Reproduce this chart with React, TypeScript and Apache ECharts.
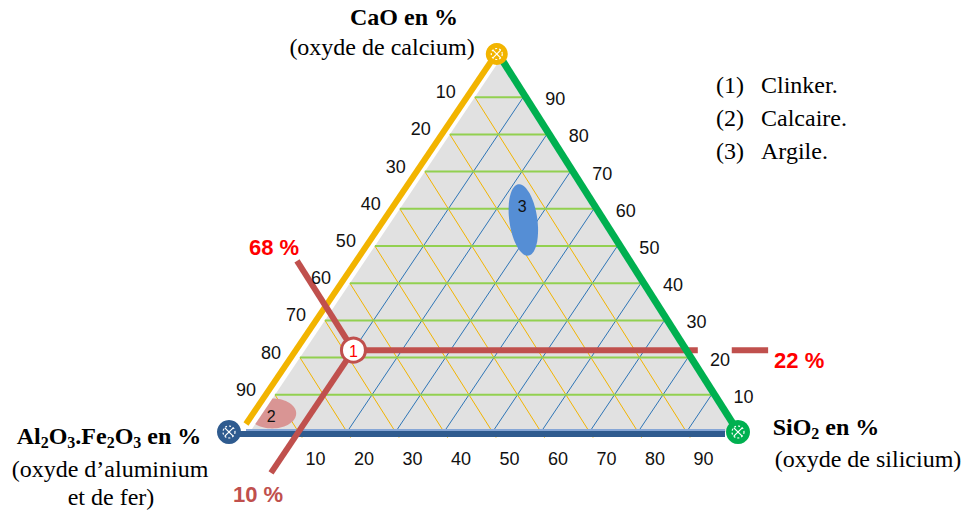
import React, { useEffect, useRef } from "react";
import * as echarts from "echarts";

// ---------------- data ----------------
const TICKS = [10, 20, 30, 40, 50, 60, 70, 80, 90];
// clinker (1): CaO, SiO2, Al2O3.Fe2O3 (%)
const CLINKER_CAO = 68;
const CLINKER_SIO2 = 22;
const CLINKER_ALFE = 10;
// domain centres (CaO, SiO2, Al2O3.Fe2O3)
const CALCAIRE = [93, 5, 2];
const ARGILE = [16, 57, 27];
const LEGEND_NUMS = ["(1)", "(2)", "(3)"];
const LEGEND_NAMES = ["Clinker.", "Calcaire.", "Argile."];
const RED_LABELS = ["68 %", "22 %", "10 %"];

// horizontal position of the top vertex, in % of the base
const APEX_X = 51.5;

// ternary -> cartesian (x: 0..100 along base, y: 0..100 height)
function tern(cao: number, sio2: number, alfe: number): number[] {
  return [alfe + (sio2 * APEX_X) / 100, sio2];
}

const greenSegs = TICKS.map((v) => [...tern(100 - v, v, 0), ...tern(0, v, 100 - v)]);
const orangeSegs = TICKS.map((v) => [...tern(v, 100 - v, 0), ...tern(v, -1.5, 101.5 - v)]);
const blueSegs = TICKS.map((v) => [...tern(100 - v, 0, v), ...tern(0, 100 - v, v)]);

const P1 = tern(CLINKER_CAO, CLINKER_SIO2, CLINKER_ALFE);
const CAO_END = tern(CLINKER_CAO, CLINKER_SIO2 + 24, CLINKER_ALFE - 24);
const SIO2_END = tern(-3, CLINKER_SIO2, 103 - CLINKER_SIO2);
const SIO2_TAIL_A = tern(-10, CLINKER_SIO2, 110 - CLINKER_SIO2);
const SIO2_TAIL_B = tern(-17.5, CLINKER_SIO2, 117.5 - CLINKER_SIO2);
const ALFE_END = tern(CLINKER_CAO + 33, CLINKER_SIO2 - 33, CLINKER_ALFE);
const redSegs = [
  [...P1, ...CAO_END],
  [...P1, ...SIO2_END],
  [...SIO2_TAIL_A, ...SIO2_TAIL_B],
  [...P1, ...ALFE_END],
];

const leftTicks = TICKS.map((v) => [...tern(v, 100 - v, 0), v]);
const rightTicks = TICKS.map((v) => [...tern(0, v, 100 - v), v]);
const bottomTicks = TICKS.map((v) => [...tern(100 - v, 0, v), v]);

const VA = tern(100, 0, 0);
const VB = tern(0, 0, 100);
const VC = tern(0, 100, 0);

// ---------------- styles ----------------
const SERIF = '"Liberation Serif", "Times New Roman", serif';
const SANS = '"Liberation Sans", Arial, sans-serif';
const RED = "#c0504d";
const ORANGE = "#f2b400";
const GREEN = "#00b050";
const BLUE_DARK = "#2f5b8f";
const BLUE_LIGHT = "#86a6d6";

// clip a polygon to a convex polygon (Sutherland-Hodgman)
function clipPoly(subject: number[][], clip: number[][]): number[][] {
  let out = subject;
  // orientation of clip polygon
  const area = clip.reduce((s, p, i) => {
    const q = clip[(i + 1) % clip.length];
    return s + (p[0] * q[1] - q[0] * p[1]);
  }, 0);
  const sgn = area > 0 ? 1 : -1;
  for (let i = 0; i < clip.length; i++) {
    const a = clip[i];
    const b = clip[(i + 1) % clip.length];
    const inside = (p: number[]) => sgn * ((b[0] - a[0]) * (p[1] - a[1]) - (b[1] - a[1]) * (p[0] - a[0])) >= 0;
    const inter = (p: number[], q: number[]) => {
      const d1 = (b[0] - a[0]) * (p[1] - a[1]) - (b[1] - a[1]) * (p[0] - a[0]);
      const d2 = (b[0] - a[0]) * (q[1] - a[1]) - (b[1] - a[1]) * (q[0] - a[0]);
      const t = d1 / (d1 - d2);
      return [p[0] + t * (q[0] - p[0]), p[1] + t * (q[1] - p[1])];
    };
    const input = out;
    out = [];
    for (let j = 0; j < input.length; j++) {
      const cur = input[j];
      const prev = input[(j + input.length - 1) % input.length];
      if (inside(cur)) {
        if (!inside(prev)) out.push(inter(prev, cur));
        out.push(cur);
      } else if (inside(prev)) {
        out.push(inter(prev, cur));
      }
    }
  }
  return out;
}

function segSeries(data: number[][], color: string, width: number, z: number) {
  return {
    type: "custom",
    data,
    clip: false,
    silent: true,
    z,
    renderItem: (_p: any, api: any) => {
      const a = api.coord([api.value(0), api.value(1)]);
      const b = api.coord([api.value(2), api.value(3)]);
      return {
        type: "line",
        shape: { x1: a[0], y1: a[1], x2: b[0], y2: b[1] },
        style: { stroke: color, lineWidth: width, lineCap: "butt" },
      };
    },
  };
}

function tickSeries(data: number[][], dx: number, dy: number) {
  return {
    type: "custom",
    data,
    clip: false,
    silent: true,
    z: 20,
    renderItem: (_p: any, api: any) => {
      const p = api.coord([api.value(0), api.value(1)]);
      return {
        type: "text",
        x: p[0] + dx,
        y: p[1] + dy,
        style: {
          text: String(api.value(2)),
          fill: "#111",
          font: `18px ${SANS}`,
          align: "center",
          verticalAlign: "middle",
        },
      };
    },
  };
}

function marker(cx: number, cy: number, r: number, color: string) {
  const w = "#ffffff";
  return {
    type: "group",
    children: [
      { type: "circle", shape: { cx, cy, r }, style: { fill: color } },
      { type: "circle", shape: { cx, cy, r: r * 0.5 }, style: { fill: "none", stroke: w, lineWidth: 1.2, lineDash: [2, 2] } },
      { type: "line", shape: { x1: cx - r * 0.35, y1: cy - r * 0.35, x2: cx + r * 0.35, y2: cy + r * 0.35 }, style: { stroke: w, lineWidth: 1.2 } },
      { type: "line", shape: { x1: cx - r * 0.35, y1: cy + r * 0.35, x2: cx + r * 0.35, y2: cy - r * 0.35 }, style: { stroke: w, lineWidth: 1.2 } },
    ],
  };
}

function buildOption() {
  const rich = {
    b: { fontSize: 24, fontWeight: "bold", fontFamily: SERIF, lineHeight: 28, fill: "#000" },
    s: { fontSize: 16, fontWeight: "bold", fontFamily: SERIF, lineHeight: 14, verticalAlign: "bottom", fill: "#000" },
  };
  const graphic: any[] = [
    { type: "text", x: 404, y: 17, style: { text: "CaO en %", font: `bold 24px ${SERIF}`, fill: "#000", align: "center", verticalAlign: "middle" } },
    { type: "text", x: 382, y: 47, style: { text: "(oxyde de calcium)", font: `24px ${SERIF}`, fill: "#000", align: "center", verticalAlign: "middle" } },
    {
      type: "text",
      x: 109,
      y: 436,
      style: {
        text: "{b|Al}{s|2}{b|O}{s|3}{b|.Fe}{s|2}{b|O}{s|3}{b| en %}",
        fill: "#000",
        align: "center",
        verticalAlign: "middle",
        rich,
      },
    },
    { type: "text", x: 110, y: 469, style: { text: "(oxyde d\u2019aluminium", font: `24px ${SERIF}`, fill: "#000", align: "center", verticalAlign: "middle" } },
    { type: "text", x: 111, y: 497, style: { text: "et de fer)", font: `24px ${SERIF}`, fill: "#000", align: "center", verticalAlign: "middle" } },
    {
      type: "text",
      x: 826,
      y: 427,
      style: { text: "{b|SiO}{s|2}{b| en %}", fill: "#000", align: "center", verticalAlign: "middle", rich },
    },
    { type: "text", x: 868, y: 459, style: { text: "(oxyde de silicium)", font: `24px ${SERIF}`, fill: "#000", align: "center", verticalAlign: "middle" } },
  ];
  LEGEND_NUMS.forEach((n, i) => {
    const y = 85 + i * 33;
    graphic.push({ type: "text", x: 716, y, style: { text: n, font: `24px ${SERIF}`, fill: "#000", align: "left", verticalAlign: "middle" } });
    graphic.push({ type: "text", x: 761, y, style: { text: LEGEND_NAMES[i], font: `24px ${SERIF}`, fill: "#000", align: "left", verticalAlign: "middle" } });
  });

  return {
    animation: false,
    backgroundColor: "#ffffff",
    grid: { left: 250, right: 234, top: 60, bottom: 82 },
    xAxis: { type: "value", min: 0, max: 100, show: false },
    yAxis: { type: "value", min: 0, max: 100, show: false },
    graphic,
    series: [
      // grey triangle
      {
        type: "custom",
        data: [[0, 0]],
        clip: false,
        silent: true,
        z: 1,
        renderItem: (_p: any, api: any) => {
          const pts = [api.coord(VA), api.coord(VB), api.coord(VC)];
          return { type: "polygon", shape: { points: pts }, style: { fill: "#e1e1e1" } };
        },
      },
      segSeries(orangeSegs, ORANGE, 1, 2),
      segSeries(blueSegs, "#2e75b6", 1, 2),
      segSeries(greenSegs, "#92d050", 2, 3),
      // domains 2 and 3 (clipped to the triangle)
      {
        type: "custom",
        data: [CALCAIRE, ARGILE].map((c, i) => [...tern(c[0], c[1], c[2]), i + 2]),
        clip: false,
        silent: true,
        z: 4,
        renderItem: (_p: any, api: any) => {
          const c = api.coord([api.value(0), api.value(1)]);
          const idx = api.value(2);
          const isArg = idx === 3;
          const rx = isArg ? 14 : 24;
          const ry = isArg ? 36 : 15;
          const rot = isArg ? -0.14 : 0;
          const pts: number[][] = [];
          for (let k = 0; k < 72; k++) {
            const t = (k / 72) * Math.PI * 2;
            const ex = rx * Math.cos(t);
            const ey = ry * Math.sin(t);
            pts.push([c[0] + ex * Math.cos(rot) - ey * Math.sin(rot), c[1] + ex * Math.sin(rot) + ey * Math.cos(rot)]);
          }
          const tri = [api.coord(VA), api.coord(VB), api.coord(VC)];
          const clipped = clipPoly(pts, tri);
          return {
            type: "group",
            children: [
              { type: "polygon", shape: { points: clipped }, style: { fill: isArg ? "#558ed5" : "#d99594" } },
              {
                type: "text",
                x: c[0] - 1,
                y: c[1] + (isArg ? -13 : 3),
                style: { text: String(idx), font: `16px ${SANS}`, fill: "#111", align: "center", verticalAlign: "middle" },
              },
            ],
          };
        },
      },
      // orange & blue edges
      {
        type: "custom",
        data: [[0, 0]],
        clip: false,
        silent: true,
        z: 5,
        renderItem: (_p: any, api: any) => {
          const a = api.coord(VA);
          const b = api.coord(VB);
          const c = api.coord(VC);
          return {
            type: "group",
            children: [
              { type: "line", shape: { x1: c[0] - 3, y1: c[1] - 7, x2: a[0] - 4, y2: a[1] - 8 }, style: { stroke: ORANGE, lineWidth: 6 } },
              { type: "line", shape: { x1: a[0] - 21, y1: a[1] + 2, x2: b[0] - 10, y2: b[1] + 2 }, style: { stroke: BLUE_DARK, lineWidth: 6 } },
              { type: "line", shape: { x1: a[0] - 4, y1: a[1] - 2, x2: b[0] - 10, y2: b[1] - 2 }, style: { stroke: BLUE_LIGHT, lineWidth: 2 } },
            ],
          };
        },
      },
      segSeries(redSegs, RED, 6, 6),
      // green edge and vertex markers
      {
        type: "custom",
        data: [[0, 0]],
        clip: false,
        silent: true,
        z: 7,
        renderItem: (_p: any, api: any) => {
          const a = api.coord(VA);
          const b = api.coord(VB);
          const c = api.coord(VC);
          return {
            type: "group",
            children: [
              { type: "line", shape: { x1: c[0] + 3, y1: c[1] + 1, x2: b[0] + 2, y2: b[1] - 2 }, style: { stroke: GREEN, lineWidth: 7 } },
              marker(c[0] - 3, c[1] - 6, 11, ORANGE),
              marker(a[0] - 21, a[1], 12, BLUE_DARK),
              marker(b[0] + 3, b[1], 12, GREEN),
            ],
          };
        },
      },
      // point 1
      {
        type: "custom",
        data: [[...P1, 1]],
        clip: false,
        silent: true,
        z: 8,
        renderItem: (_p: any, api: any) => {
          const c = api.coord([api.value(0), api.value(1)]);
          return {
            type: "group",
            children: [
              { type: "circle", shape: { cx: c[0], cy: c[1], r: 12 }, style: { fill: "#fff", stroke: RED, lineWidth: 3 } },
              { type: "text", x: c[0], y: c[1] + 1, style: { text: String(api.value(2)), font: `16px ${SANS}`, fill: "#ff0000", align: "center", verticalAlign: "middle" } },
            ],
          };
        },
      },
      // red percentage labels
      {
        type: "custom",
        data: [
          [...CAO_END, 0],
          [...SIO2_TAIL_B, 1],
          [...ALFE_END, 2],
        ],
        clip: false,
        silent: true,
        z: 9,
        renderItem: (_p: any, api: any) => {
          const c = api.coord([api.value(0), api.value(1)]);
          const i = api.value(2);
          const off = [
            [-23, -13],
            [31, 10],
            [-13, 22],
          ][i];
          return {
            type: "text",
            x: c[0] + off[0],
            y: c[1] + off[1],
            style: {
              text: RED_LABELS[i],
              font: `bold 22px ${SANS}`,
              fill: i === 2 ? RED : "#ff0000",
              align: "center",
              verticalAlign: "middle",
            },
          };
        },
      },
      tickSeries(leftTicks, -29, -5),
      tickSeries(rightTicks, 32, 2),
      tickSeries(bottomTicks, 17, 27),
    ],
  };
}

export default function App() {
  const ref = useRef<HTMLDivElement>(null);
  useEffect(() => {
    document.body.style.margin = "0";
    if (!ref.current) return;
    const chart = echarts.init(ref.current, undefined, { renderer: "svg" });
    chart.setOption(buildOption() as any);
    return () => chart.dispose();
  }, []);
  return <div ref={ref} style={{ width: 969, height: 514 }} />;
}
